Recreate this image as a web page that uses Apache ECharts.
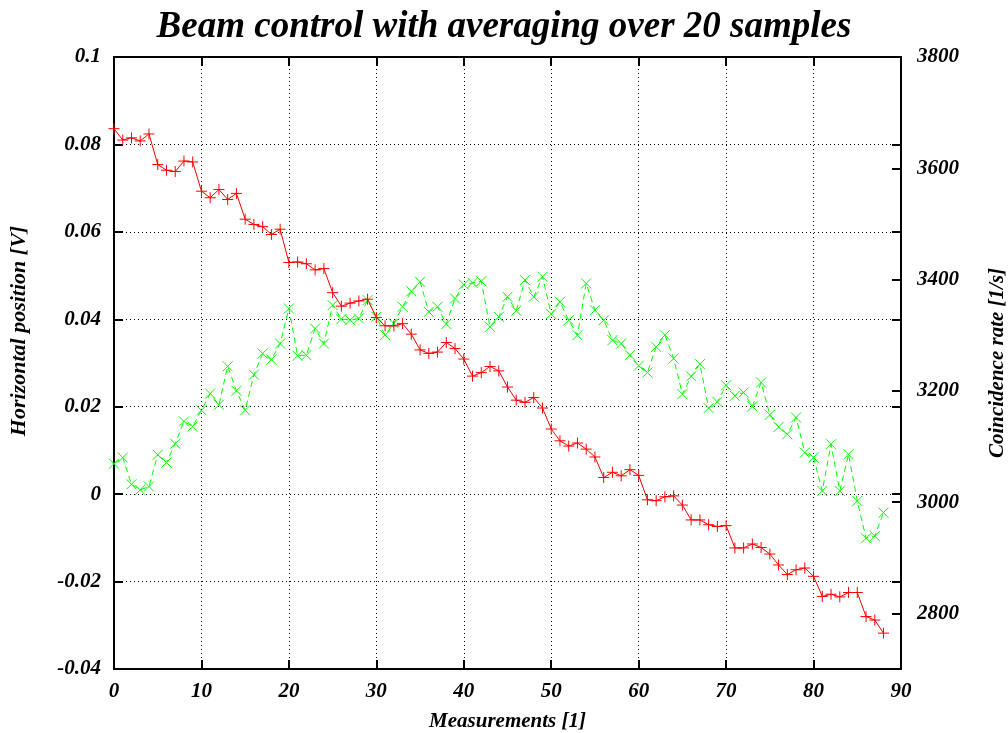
<!DOCTYPE html>
<html>
<head>
<meta charset="utf-8">
<script src="https://cdn.jsdelivr.net/npm/echarts@6/dist/echarts.min.js"></script>
<style>html,body{margin:0;padding:0;background:#fff;}#c{width:1008px;height:733px;}</style>
</head>
<body>
<div id="c"></div>
<script>
const measurements = Array.from({length: 89}, (_, i) => i);
const position = [
  0.0836, 0.0810, 0.0815, 0.0808, 0.0824, 0.0754, 0.0741, 0.0738, 0.0762, 0.0760,
  0.0693, 0.0678, 0.0697, 0.0674, 0.0688, 0.0629, 0.0617, 0.0612, 0.0594, 0.0606,
  0.0530, 0.0531, 0.0527, 0.0513, 0.0516, 0.0461, 0.0430, 0.0437, 0.0442, 0.0446,
  0.0404, 0.0385, 0.0385, 0.0390, 0.0366, 0.0330, 0.0322, 0.0325, 0.0347, 0.0333,
  0.0309, 0.0270, 0.0278, 0.0292, 0.0282, 0.0245, 0.0215, 0.0210, 0.0221, 0.0197,
  0.0149, 0.0122, 0.0110, 0.0117, 0.0103, 0.0085, 0.0038, 0.0050, 0.0042, 0.0056,
  0.0043, -0.0013, -0.0015, -0.0006, -0.0004, -0.0025, -0.0059, -0.0059, -0.0070, -0.0074,
  -0.0072, -0.0123, -0.0123, -0.0114, -0.0122, -0.0137, -0.0162, -0.0184, -0.0173, -0.0169,
  -0.0188, -0.0234, -0.0229, -0.0235, -0.0225, -0.0225, -0.0280, -0.0288, -0.0318
];
const rate = [
  3069, 3080, 3032, 3022, 3028, 3085, 3071, 3105, 3145, 3136,
  3165, 3195, 3175, 3244, 3200, 3165, 3229, 3267, 3256, 3285,
  3348, 3263, 3264, 3312, 3285, 3354, 3329, 3327, 3330, 3363,
  3333, 3300, 3321, 3351, 3379, 3396, 3342, 3351, 3320, 3366,
  3391, 3394, 3397, 3315, 3333, 3369, 3344, 3399, 3369, 3405,
  3338, 3360, 3327, 3300, 3393, 3345, 3327, 3291, 3285, 3264,
  3245, 3233, 3279, 3300, 3258, 3194, 3226, 3248, 3169, 3180,
  3210, 3191, 3197, 3172, 3215, 3157, 3135, 3122, 3152, 3089,
  3080, 3020, 3104, 3020, 3086, 3002, 2935, 2939, 2981
];
const rateTicks = [2800, 3000, 3200, 3400, 3600, 3800];

const font = '"Liberation Serif", "DejaVu Serif", serif';
const lblStyle = {fontFamily: font, fontStyle: 'italic', fontWeight: 'bold', fontSize: 21, color: '#000'};
const nameStyle = {fontFamily: font, fontStyle: 'italic', fontWeight: 'bold', fontSize: 21, color: '#000'};
const tickStyle = {show: true, inside: true, length: 9, lineStyle: {color: '#000', width: 2}};
const gridLine = {show: true, lineStyle: {color: '#000', type: [1, 3], width: 1}};
const noLine = {show: false, onZero: false};

const chart = echarts.init(document.getElementById('c'), null, {renderer: 'canvas'});
chart.setOption({
  animation: false,
  backgroundColor: '#fff',
  title: {
    text: 'Beam control with averaging over 20 samples',
    left: 'center', top: 4,
    textStyle: {fontFamily: font, fontStyle: 'italic', fontWeight: 'bold', fontSize: 37, color: '#000'}
  },
  grid: {left: 114, right: 107, top: 57, bottom: 64, outerBoundsMode: 'none', containLabel: false,
         show: true, borderColor: '#000', borderWidth: 2, backgroundColor: 'transparent'},
  xAxis: [{
    type: 'value', min: 0, max: 90, interval: 10, position: 'bottom',
    name: 'Measurements [1]', nameLocation: 'middle', nameGap: 42, nameTextStyle: nameStyle,
    axisLine: noLine, axisTick: tickStyle,
    axisLabel: Object.assign({margin: 12}, lblStyle),
    splitLine: gridLine
  }, {
    type: 'value', min: 0, max: 90, interval: 10, position: 'top',
    axisLine: noLine, axisTick: tickStyle, axisLabel: {show: false}, splitLine: {show: false}
  }],
  yAxis: [{
    type: 'value', min: -0.04, max: 0.1, interval: 0.02, position: 'left',
    name: 'Horizontal position [V]', nameLocation: 'middle', nameGap: 84,
    nameTextStyle: Object.assign({}, nameStyle, {fontSize: 22, padding: [0, 0, 0, 64]}),
    axisLine: noLine, axisTick: tickStyle,
    axisLabel: Object.assign({margin: 13, formatter: v => String(parseFloat(v.toFixed(4)))}, lblStyle),
    splitLine: gridLine
  }, {
    type: 'value', min: 2700, max: 3800, position: 'right',
    name: 'Coincidence rate [1/s]', nameLocation: 'middle', nameGap: 86, nameRotate: 90, nameTextStyle: nameStyle,
    axisLine: noLine,
    axisTick: Object.assign({customValues: rateTicks}, tickStyle),
    axisLabel: Object.assign({margin: 16, customValues: rateTicks, formatter: v => String(v)}, lblStyle),
    splitLine: {show: false}
  }, {
    type: 'value', min: -0.04, max: 0.1, interval: 0.02, position: 'right',
    axisLine: noLine, axisTick: tickStyle, axisLabel: {show: false}, splitLine: {show: false}
  }],
  series: [{
    type: 'line', xAxisIndex: 0, yAxisIndex: 0,
    data: measurements.map((m, i) => [m, position[i]]),
    symbol: 'path://M0,5 L10,5 M5,0 L5,10', symbolSize: 11,
    lineStyle: {color: '#ff0000', width: 1},
    itemStyle: {color: 'rgba(0,0,0,0)', borderColor: '#ff0000', borderWidth: 1},
    z: 3
  }, {
    type: 'line', xAxisIndex: 0, yAxisIndex: 1,
    data: measurements.map((m, i) => [m, rate[i]]),
    symbol: 'path://M0,0 L10,10 M10,0 L0,10', symbolSize: 10,
    lineStyle: {color: '#00ff00', width: 1, type: [6, 4]},
    itemStyle: {color: 'rgba(0,0,0,0)', borderColor: '#00ff00', borderWidth: 1},
    z: 2
  }]
});
</script>
</body>
</html>
